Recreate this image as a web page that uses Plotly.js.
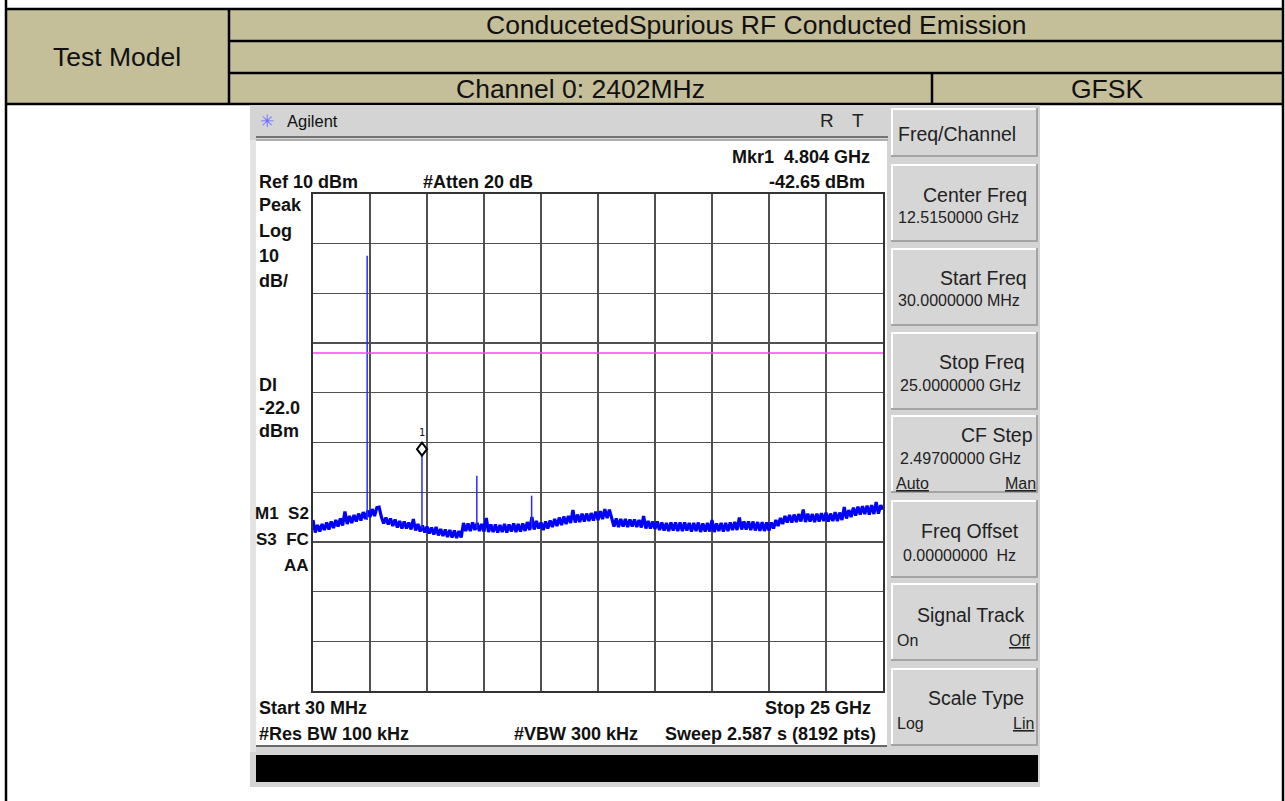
<!DOCTYPE html>
<html><head><meta charset="utf-8">
<script src="https://cdn.plot.ly/plotly-3.0.1.min.js"></script>
<style>html,body{margin:0;padding:0;background:#fff;overflow:hidden}#chart{width:1285px;height:801px}</style>
</head><body><div id="chart"></div>
<script>
// ---------------- data ----------------
const sweepStartGHz = 0.03;
const sweepStopGHz = 25;
const refLevelDbm = 10;
const dbPerDiv = 10;
const displayLineDbm = -22;
const markerFreqGHz = 4.804;
const markerAmpDbm = -42.65;
// noise floor of the sweep (dBm), read across the 30 MHz .. 25 GHz span
const noiseFloorDbm = [
 -55.6,-58.1,-56.6,-57.9,-56.4,-57.6,-56.1,-57.5,-55.9,-57.2,
 -55.6,-56.9,-55.3,-56.7,-53.9,-56.4,-54.8,-56.2,-54.6,-55.9,
 -54.3,-55.7,-54.0,-55.4,-53.7,-55.0,-53.4,-54.8,-53.1,-53.0,
 -55.0,-56.3,-55.1,-56.5,-55.3,-56.8,-55.5,-57.1,-55.8,-57.3,
 -55.9,-57.3,-56.1,-57.5,-55.4,-57.7,-56.4,-57.9,-56.7,-58.1,
 -56.9,-58.3,-57.1,-58.5,-57.0,-58.7,-57.4,-58.8,-57.5,-59.0,
 -57.6,-59.1,-57.7,-59.2,-57.8,-59.1,-56.2,-57.8,-56.3,-57.8,
 -56.1,-57.6,-56.2,-57.8,-56.4,-57.9,-55.2,-58.0,-56.5,-58.0,
 -56.5,-58.1,-56.6,-58.0,-56.4,-58.1,-56.5,-57.9,-56.3,-58.0,
 -56.4,-57.9,-56.3,-57.8,-56.0,-57.6,-55.0,-57.5,-55.8,-57.3,
 -56.1,-57.6,-55.9,-57.3,-55.7,-57.0,-55.4,-56.8,-55.1,-56.6,
 -54.9,-56.4,-54.8,-56.2,-53.6,-56.1,-54.5,-56.0,-54.3,-55.9,
 -54.3,-55.8,-54.2,-55.7,-53.9,-55.6,-53.8,-55.4,-53.4,-55.2,-53.5,
 -55.4,-56.9,-55.3,-57.0,-55.4,-56.9,-55.4,-57.0,-55.5,
 -56.9,-55.5,-57.0,-55.6,-57.1,-54.8,-57.3,-55.8,-57.3,-55.9,
 -57.4,-55.9,-57.6,-56.1,-57.7,-56.2,-57.8,-56.1,-57.7,-56.1,
 -57.8,-56.1,-57.8,-56.1,-57.7,-56.2,-57.9,-56.2,-57.8,-56.1,
 -58.0,-56.3,-57.9,-56.2,-57.9,-55.6,-58.0,-56.3,-57.8,-56.2,
 -57.9,-56.2,-57.8,-56.1,-57.6,-56.0,-57.6,-55.1,-57.5,-55.9,
 -57.5,-55.9,-57.6,-55.9,-57.7,-56.0,-57.8,-56.0,-57.8,-56.1,
 -57.7,-56.1,-57.3,-55.6,-56.8,-55.2,-56.4,-54.8,-56.1,-54.6,
 -56.1,-54.5,-56.0,-54.4,-55.9,-53.5,-56.0,-54.3,-55.9,-54.4,
 -56.0,-54.3,-55.9,-54.2,-55.8,-54.1,-55.9,-54.3,-55.8,-54.0,
 -55.8,-54.1,-55.6,-53.0,-55.3,-53.6,-55.0,-53.1,-54.7,-52.9,
 -54.5,-52.8,-54.4,-52.7,-54.5,-52.6,-54.4,-52.0,-54.3,-52.6,-53.5
];
// discrete emissions (carrier and harmonics)
const spikeFreqGHz = [2.402, 4.804, 7.206, 9.608];
const spikePeakDbm = [-2.4, -42.65, -46.7, -50.7];
const spikeBaseDbm = [-55.6, -57.3, -57.2, -57.3];

// table texts
const tableTitle = 'ConducetedSpurious RF Conducted Emission';
const tableRowHead = 'Test Model';
const tableChannel = 'Channel 0: 2402MHz';
const tableMod = 'GFSK';

// ---------------- helpers ----------------
const W = 1285, H = 801;
const px = x => x / W;
const py = y => 1 - y / H;

// sweep x positions (evenly spaced points of the analyzer sweep)
const nPts = noiseFloorDbm.length;
const sweepX = noiseFloorDbm.map((_, i) => sweepStartGHz + i * (sweepStopGHz - sweepStartGHz) / (nPts - 1));

const spikeX = [], spikeY = [];
spikeFreqGHz.forEach((f, i) => { spikeX.push(f, f, null); spikeY.push(spikeBaseDbm[i], spikePeakDbm[i], null); });

const shapes = [];
function rect(x0, y0, x1, y1, fill, layer) {
  shapes.push({type:'rect', xref:'paper', yref:'paper', x0:px(x0), x1:px(x1), y0:py(y1), y1:py(y0),
    fillcolor:fill, line:{width:0}, layer: layer || 'below'});
}
function line(x0, y0, x1, y1, color, w, layer) {
  shapes.push({type:'line', xref:'paper', yref:'paper', x0:px(x0), x1:px(x1), y0:py(y0), y1:py(y1),
    line:{color:color, width:w}, layer: layer || 'below'});
}

// page + table
rect(6, 9, 1283, 104, '#c4be99');
line(6, 9, 1283, 9, '#000', 2.5);
line(229, 41, 1283, 41, '#000', 2.5);
line(229, 73, 1283, 73, '#000', 2.5);
line(6, 104, 1283, 104, '#000', 2.5);
line(229, 9, 229, 104, '#000', 2.5);
line(932, 73, 932, 104, '#000', 2.5);
line(6, 0, 6, 801, '#000', 2.5);
line(1283, 0, 1283, 801, '#000', 2.5);

// analyzer frame
rect(250, 105, 1040, 787, '#d4d4d4');
rect(250, 140, 256, 752, '#e4e4e4');
rect(256, 141, 887, 745, '#ffffff');
line(256, 137, 888, 137, '#555', 1.5);
line(256, 140, 888, 140, '#888', 1);
line(256, 746, 887, 746, '#444', 1.5);
rect(256, 755, 1038, 782, '#000000');

// softkeys
const keyTops = [108, 164, 248, 332, 415, 500, 583, 668];
keyTops.forEach((t, i) => {
  const b = i === 0 ? 157 : t + 78;
  rect(891, t, 1038, b, '#d6d6d6');
  line(891, t + 1, 1038, t + 1, '#ffffff', 2);
  line(892, t, 892, b, '#ffffff', 2);
  line(891, b - 1, 1038, b - 1, '#a4a4a4', 2);
  line(1037, t, 1037, b, '#a4a4a4', 2);
});

// display line
shapes.push({type:'line', xref:'x', yref:'y', x0:sweepStartGHz, x1:sweepStopGHz, y0:displayLineDbm, y1:displayLineDbm,
  line:{color:'#ff44ff', width:1.5}, layer:'above'});
// marker diamond (bottom vertex on the marker point)
shapes.push({type:'path', xref:'x', yref:'y', xsizemode:'pixel', ysizemode:'pixel',
  xanchor:markerFreqGHz, yanchor:markerAmpDbm, path:'M0,0 L5,6.5 L0,13 L-5,6.5 Z',
  line:{color:'#000', width:2}, fillcolor:'#ffffff', layer:'above'});

// ---------------- annotations ----------------
const ann = [];
const TBL = {family:'Liberation Sans, Arial, sans-serif', size:26.5, color:'#111'};
const SCR = {family:'Liberation Sans, Arial, sans-serif', size:18, color:'#111', weight:700};
const SCR2 = {family:'Liberation Sans, Arial, sans-serif', size:17, color:'#111', weight:700};
const KEY = {family:'Liberation Sans, Arial, sans-serif', size:19.5, color:'#222'};
const VAL = {family:'Liberation Sans, Arial, sans-serif', size:16, color:'#222'};
function t(x, y, text, anchor, font) {
  ann.push({xref:'paper', yref:'paper', x:px(x), y:py(y), text:text, xanchor:anchor, yanchor:'middle',
    showarrow:false, font:font, borderpad:0});
}
t(756, 25, tableTitle, 'center', TBL);
t(117, 57, tableRowHead, 'center', TBL);
t(580, 89, tableChannel, 'center', TBL);
t(1107, 89, tableMod, 'center', TBL);

// title bar
t(259, 121, '✳', 'left', {family:'DejaVu Sans', size:17, color:'#6a6aff'});
t(286, 121, 'Agilent', 'left', {family:'Liberation Sans, Arial, sans-serif', size:16.5, color:'#111'});
t(827, 120, 'R', 'center', {family:'Liberation Sans, Arial, sans-serif', size:19, color:'#222'});
t(858, 120, 'T', 'center', {family:'Liberation Sans, Arial, sans-serif', size:19, color:'#222'});

// screen annotations
t(871, 157, 'Mkr1  4.804 GHz', 'right', SCR);
t(258, 182, 'Ref 10 dBm', 'left', SCR);
t(422, 182, '#Atten 20 dB', 'left', SCR);
t(866, 182, '-42.65 dBm', 'right', SCR);
t(258, 205, 'Peak', 'left', SCR);
t(258, 231, 'Log', 'left', SCR);
t(258, 256, '10', 'left', SCR);
t(258, 281, 'dB/', 'left', SCR);
t(258, 385, 'Dl', 'left', SCR);
t(258, 408, '-22.0', 'left', SCR);
t(258, 431, 'dBm', 'left', SCR);
t(310, 513, 'M1  S2', 'right', SCR2);
t(310, 539, 'S3  FC', 'right', SCR2);
t(310, 565, 'AA', 'right', SCR2);
t(258, 708, 'Start 30 MHz', 'left', SCR);
t(872, 708, 'Stop 25 GHz', 'right', SCR);
t(258, 734, '#Res BW 100 kHz', 'left', SCR);
t(513, 734, '#VBW 300 kHz', 'left', SCR);
t(877, 734, 'Sweep 2.587 s (8192 pts)', 'right', SCR);
ann.push({xref:'x', yref:'y', x:markerFreqGHz, y:markerAmpDbm, yshift:23, text:'1', showarrow:false,
  font:{family:'DejaVu Sans Mono, monospace', size:10, color:'#111'}});

// softkey labels
t(897, 134, 'Freq/Channel', 'left', KEY);
t(1028, 195, 'Center Freq', 'right', KEY);
t(897, 217, '12.5150000 GHz', 'left', VAL);
t(1028, 278, 'Start Freq', 'right', KEY);
t(897, 300, '30.0000000 MHz', 'left', VAL);
t(1026, 362, 'Stop Freq', 'right', KEY);
t(899, 385, '25.0000000 GHz', 'left', VAL);
t(1034, 435, 'CF Step', 'right', KEY);
t(899, 459, '2.49700000 GHz', 'left', VAL);
t(895, 483, '<u>Auto</u>', 'left', VAL);
t(1037, 483, '<u>Man</u>', 'right', VAL);
t(1020, 531, 'Freq Offset', 'right', KEY);
t(902, 555, '0.00000000  Hz', 'left', VAL);
t(1026, 615, 'Signal Track', 'right', KEY);
t(896, 640, 'On', 'left', VAL);
t(1032, 640, '<u>Off</u>', 'right', VAL);
t(1025, 698, 'Scale Type', 'right', KEY);
t(896, 723, 'Log', 'left', VAL);
t(1035, 723, '<u>Lin</u>', 'right', VAL);

// ---------------- traces ----------------
const traces = [
  {x: sweepX, y: noiseFloorDbm, type:'scatter', mode:'lines', line:{color:'#0000ff', width:3.2}, hoverinfo:'skip'},
  {x: spikeX, y: spikeY, type:'scatter', mode:'lines', line:{color:'#2a2aff', width:1.5}, hoverinfo:'skip', connectgaps:false}
];

const layout = {
  width: W, height: H, autosize:false,
  margin:{l:0, r:0, t:0, b:0, pad:0},
  paper_bgcolor:'#ffffff', plot_bgcolor:'rgba(0,0,0,0)',
  showlegend:false,
  xaxis:{domain:[px(313), px(883)], range:[sweepStartGHz, sweepStopGHz], tick0:sweepStartGHz,
    dtick:(sweepStopGHz - sweepStartGHz) / 10, showgrid:true, gridcolor:'#505050', gridwidth:1.3,
    zeroline:false, showticklabels:false, ticks:'', showline:true, mirror:true, linecolor:'#333', linewidth:2, fixedrange:true},
  yaxis:{domain:[py(691), py(194)], range:[refLevelDbm - 10 * dbPerDiv, refLevelDbm], tick0:refLevelDbm, dtick:dbPerDiv,
    showgrid:true, gridcolor:'#505050', gridwidth:1.3, zeroline:false, showticklabels:false, ticks:'',
    showline:true, mirror:true, linecolor:'#333', linewidth:2, fixedrange:true},
  shapes: shapes,
  annotations: ann
};
Plotly.newPlot('chart', traces, layout, {staticPlot:true, displayModeBar:false});
</script>
</body></html>
